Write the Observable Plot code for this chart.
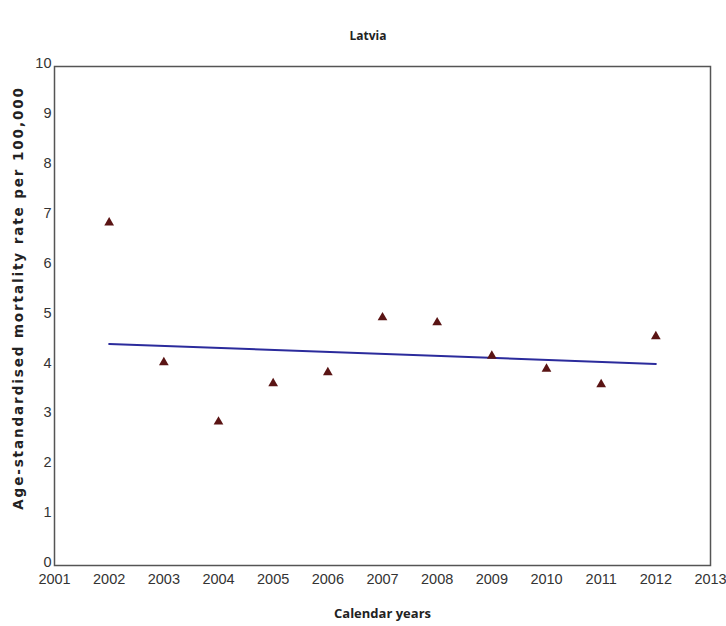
<!DOCTYPE html>
<html>
<head>
<meta charset="utf-8">
<script src="https://cdn.jsdelivr.net/npm/d3@7"></script>
<script src="https://cdn.jsdelivr.net/npm/@observablehq/plot@0.6"></script>
<style>
  html, body { margin: 0; padding: 0; background: #fff; }
  #wrap { width: 726px; }
  #title { height: 50px; box-sizing: border-box; padding-top: 29px; text-align: center; padding-left: 10px;
           font-family: "Open Sans", "DejaVu Sans", sans-serif; font-weight: bold; font-size: 12px; color: #222; line-height: 14px; }
  .ylab text { letter-spacing: 1.9px; }
  g[aria-label="x-axis tick label"], g[aria-label="y-axis tick label"],
  g[aria-label="x-axis tick label"] text, g[aria-label="y-axis tick label"] text {
    font-family: 'Liberation Sans Narrow', 'Arial Narrow', 'Liberation Sans', sans-serif; font-size: 14.5px; fill: #333;
  }
</style>
</head>
<body>
<div id="wrap">
  <div id="title">Latvia</div>
  <div id="chart"></div>
</div>
<script>
const years = [2002, 2003, 2004, 2005, 2006, 2007, 2008, 2009, 2010, 2011, 2012];
const rates = [6.87, 4.07, 2.88, 3.65, 3.87, 4.97, 4.87, 4.20, 3.94, 3.63, 4.59];
const trendYears = [2002, 2012];
const trendValues = [4.44, 4.04];
const xTicks = [2001, 2002, 2003, 2004, 2005, 2006, 2007, 2008, 2009, 2010, 2011, 2012, 2013];
const yTicks = [0, 1, 2, 3, 4, 5, 6, 7, 8, 9, 10];

const points = years.map((y, i) => ({year: y, rate: rates[i]}));
const trend = trendYears.map((y, i) => ({year: y, rate: trendValues[i]}));

const chart = Plot.plot({
  width: 726,
  height: 576,
  marginTop: 16,
  marginBottom: 61,
  marginLeft: 54,
  marginRight: 16,
  style: {fontFamily: "'Liberation Sans', sans-serif", fontSize: "13px", color: "#333", background: "#fff"},
  x: {domain: [2001, 2013]},
  y: {domain: [0, 10]},
  marks: [
    Plot.frame({stroke: "#555", strokeWidth: 1.5}),
    Plot.axisX({ticks: xTicks, tickFormat: d => String(d), tickSize: 0, tickPadding: 8, label: null}),
    Plot.axisY({ticks: yTicks, tickFormat: d => String(d), tickSize: 0, tickPadding: 3, dy: -3, label: null}),
    Plot.line(trend, {x: "year", y: "rate", stroke: "#2b2b9c", strokeWidth: 2}),
    Plot.dot(points, {x: "year", y: "rate", symbol: "triangle", r: 3.6, fill: "#5a1414", stroke: "none"}),
    Plot.text(["Calendar years"], {frameAnchor: "bottom", dy: 52, text: d => d, fontWeight: "bold", fontSize: 13,
      fontFamily: "'Open Sans', 'DejaVu Sans', sans-serif", fill: "#222"}),
    Plot.text(["Age-standardised mortality rate per 100,000"], {frameAnchor: "left", textAnchor: "middle", dx: -36, dy: -18, rotate: -90, text: d => d,
      fontWeight: "bold", fontSize: 13.5, fontFamily: "'DejaVu Sans', Verdana, sans-serif", fill: "#222", className: "ylab"})
  ]
});
document.getElementById("chart").appendChild(chart);
</script>
</body>
</html>
